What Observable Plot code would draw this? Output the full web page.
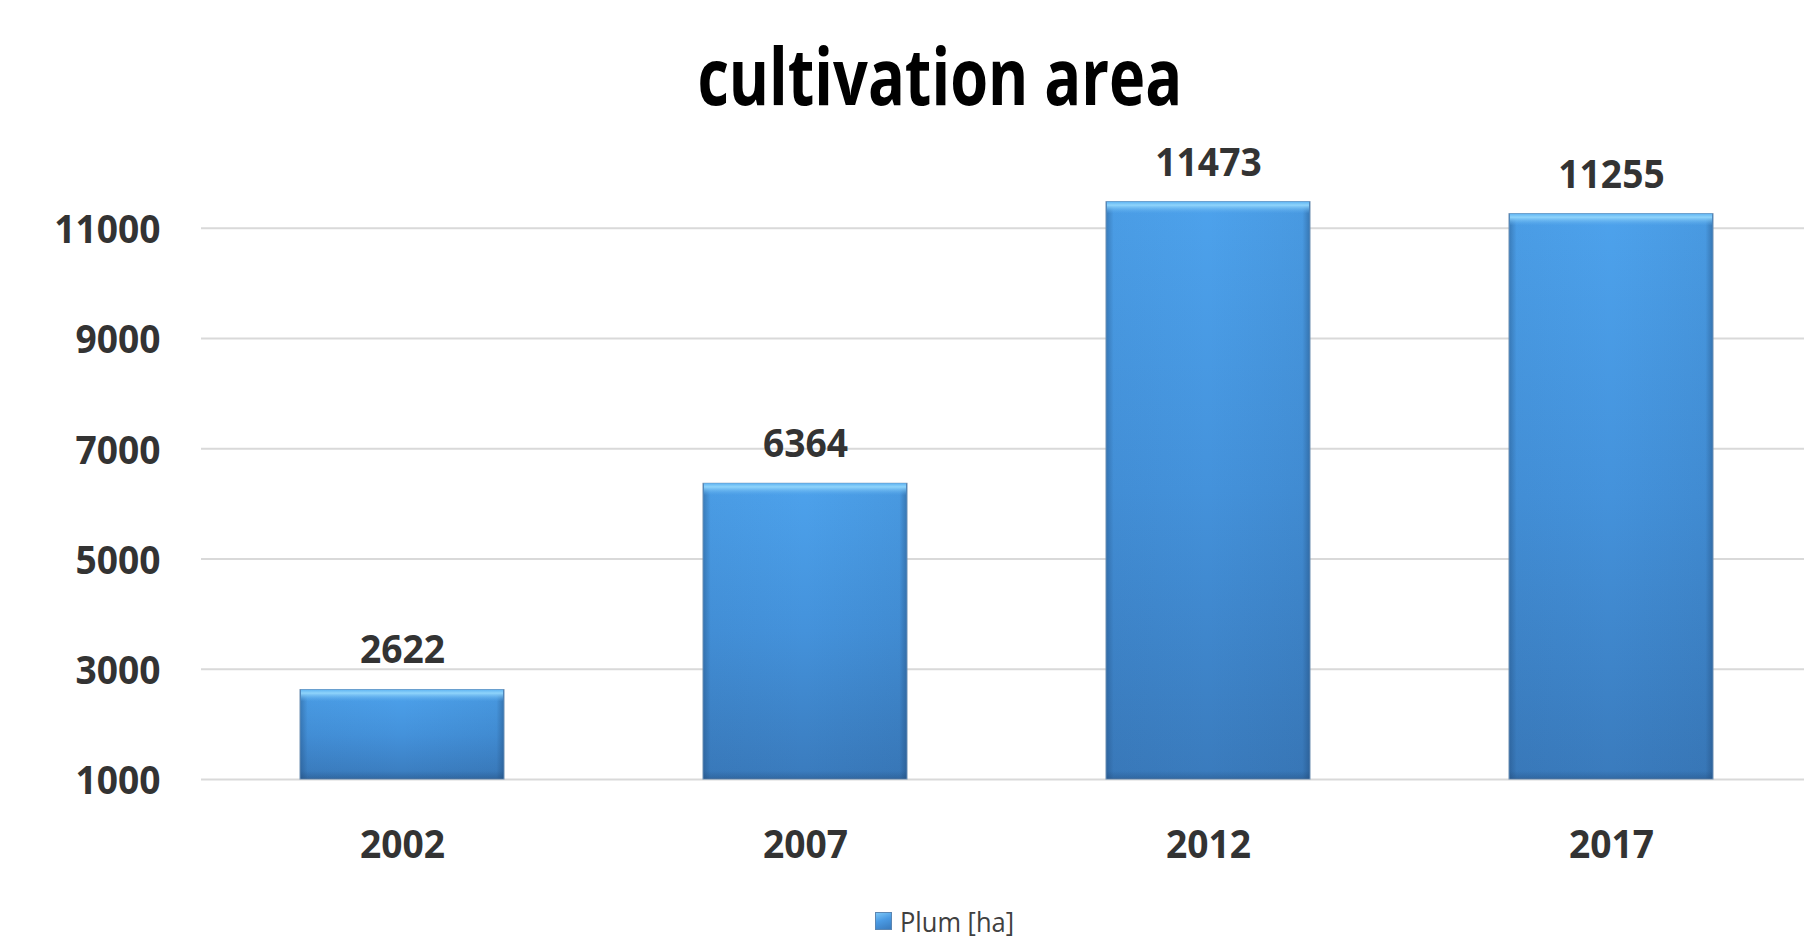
<!DOCTYPE html>
<html><head><meta charset="utf-8">
<script src="https://cdn.jsdelivr.net/npm/d3@7"></script>
<script src="https://cdn.jsdelivr.net/npm/@observablehq/plot@0.6"></script>
<style>
html,body{margin:0;padding:0;background:#fff;width:1804px;height:939px;overflow:hidden;}
#title{position:absolute;left:0;top:36px;width:1880px;text-align:center;font-family:"Open Sans";font-weight:700;font-size:78px;line-height:78px;color:#000;white-space:nowrap;}
#title span{display:inline-block;transform:scaleX(0.785);}
#chart{position:absolute;left:0;top:120px;}
#legend{position:absolute;left:875px;top:904px;display:flex;align-items:center;font-family:"Open Sans";font-weight:400;font-size:28px;line-height:34px;color:#404040;white-space:nowrap;}
#legend .sw{width:17px;height:18px;margin-right:8px;background:linear-gradient(160deg,#7cc6f6 0%,#4a9ae3 45%,#3a7bbd 100%);border:1px solid #5b86b2;box-sizing:border-box;}
#legend .lb{display:inline-block;transform:scaleX(0.91);transform-origin:left center;}
</style></head>
<body>
<div id="title"><span></span></div>
<div id="chart"></div>
<div id="legend"><div class="sw"></div><span class="lb"></span></div>
<script>
const years = ["2002", "2007", "2012", "2017"];
const values = [2622, 6364, 11473, 11255];
const yTicks = [1000, 3000, 5000, 7000, 9000, 11000];
const titleText = "cultivation area";
const seriesName = "Plum [ha]";

const data = years.map((year, i) => ({year, value: values[i]}));
const base = yTicks[0];

document.querySelector("#title span").textContent = titleText;
document.querySelector("#legend .lb").textContent = seriesName;

const H = 780;
const svg = Plot.plot({
  width: 1804,
  height: H,
  marginLeft: 201,
  marginRight: 0,
  marginTop: 107.7,
  marginBottom: H - 659,
  style: {fontFamily: "Open Sans", fontSize: "40px", fontWeight: 700, color: "#333", background: "transparent", overflow: "visible"},
  x: {type: "band", domain: years, range: [200.5, 1813], paddingInner: 0.494, paddingOuter: 0.247, label: null},
  y: {domain: [base, 11000], label: null},
  marks: [
    Plot.ruleY(yTicks, {stroke: "#d9d9d9", strokeWidth: 2}),
    Plot.barY(data, {x: "year", y1: base, y2: "value", fill: "url(#barGrad)", stroke: "#6d8db0", strokeWidth: 1}),
    Plot.barY(data, {x: "year", y1: base, y2: "value", fill: "url(#sideGrad)", inset: 0.5}),
    Plot.barY(data, {x: "year", y1: "value", y2: "value", insetBottom: -12, insetLeft: 1, insetRight: 1, fill: "url(#topGrad)"}),
    Plot.barY(data, {x: "year", y1: base, y2: base, insetTop: -8, insetLeft: 1, insetRight: 1, fill: "url(#botGrad)"}),
    Plot.axisY(yTicks, {tickSize: 0, tickPadding: 41, fontSize: 40, dy: 2, fill: "#333", tickFormat: d => String(d)}),
    Plot.axisX({tickSize: 0, tickPadding: 50, fontSize: 40, fill: "#333"}),
    Plot.text(data, {x: "year", y: "value", text: d => String(d.value), lineAnchor: "bottom", dy: -26.6, fill: "#333", fontSize: 40})
  ]
});

const ns = "http://www.w3.org/2000/svg";
const defs = document.createElementNS(ns, "defs");
defs.innerHTML = `
<linearGradient id="barGrad" x1="0" y1="0" x2="0" y2="1">
  <stop offset="0" stop-color="#4da2ec"/>
  <stop offset="0.5" stop-color="#4492db"/>
  <stop offset="1" stop-color="#3a7bbd"/>
</linearGradient>
<linearGradient id="sideGrad" x1="0" y1="0" x2="1" y2="0">
  <stop offset="0" stop-color="#1a3d66" stop-opacity="0.35"/>
  <stop offset="0.035" stop-color="#1a3d66" stop-opacity="0.05"/>
  <stop offset="0.5" stop-color="#1a3d66" stop-opacity="0"/>
  <stop offset="0.965" stop-color="#1a3d66" stop-opacity="0.08"/>
  <stop offset="1" stop-color="#1a3d66" stop-opacity="0.4"/>
</linearGradient>
<linearGradient id="topGrad" x1="0" y1="0" x2="0" y2="1">
  <stop offset="0" stop-color="#5fb4f2"/>
  <stop offset="0.3" stop-color="#8fd4fb"/>
  <stop offset="1" stop-color="#5aaaed" stop-opacity="0"/>
</linearGradient>
<linearGradient id="botGrad" x1="0" y1="0" x2="0" y2="1">
  <stop offset="0" stop-color="#1a3d66" stop-opacity="0"/>
  <stop offset="1" stop-color="#1a3d66" stop-opacity="0.3"/>
</linearGradient>`;
svg.insertBefore(defs, svg.firstChild);

// condense glyphs horizontally (Calibri-like narrow look); only x is scaled
svg.querySelectorAll("text").forEach(t => {
  const tr = t.getAttribute("transform") || "";
  t.setAttribute("transform", tr + " scale(0.93,1)");
});

document.getElementById("chart").appendChild(svg);
</script>
</body></html>
